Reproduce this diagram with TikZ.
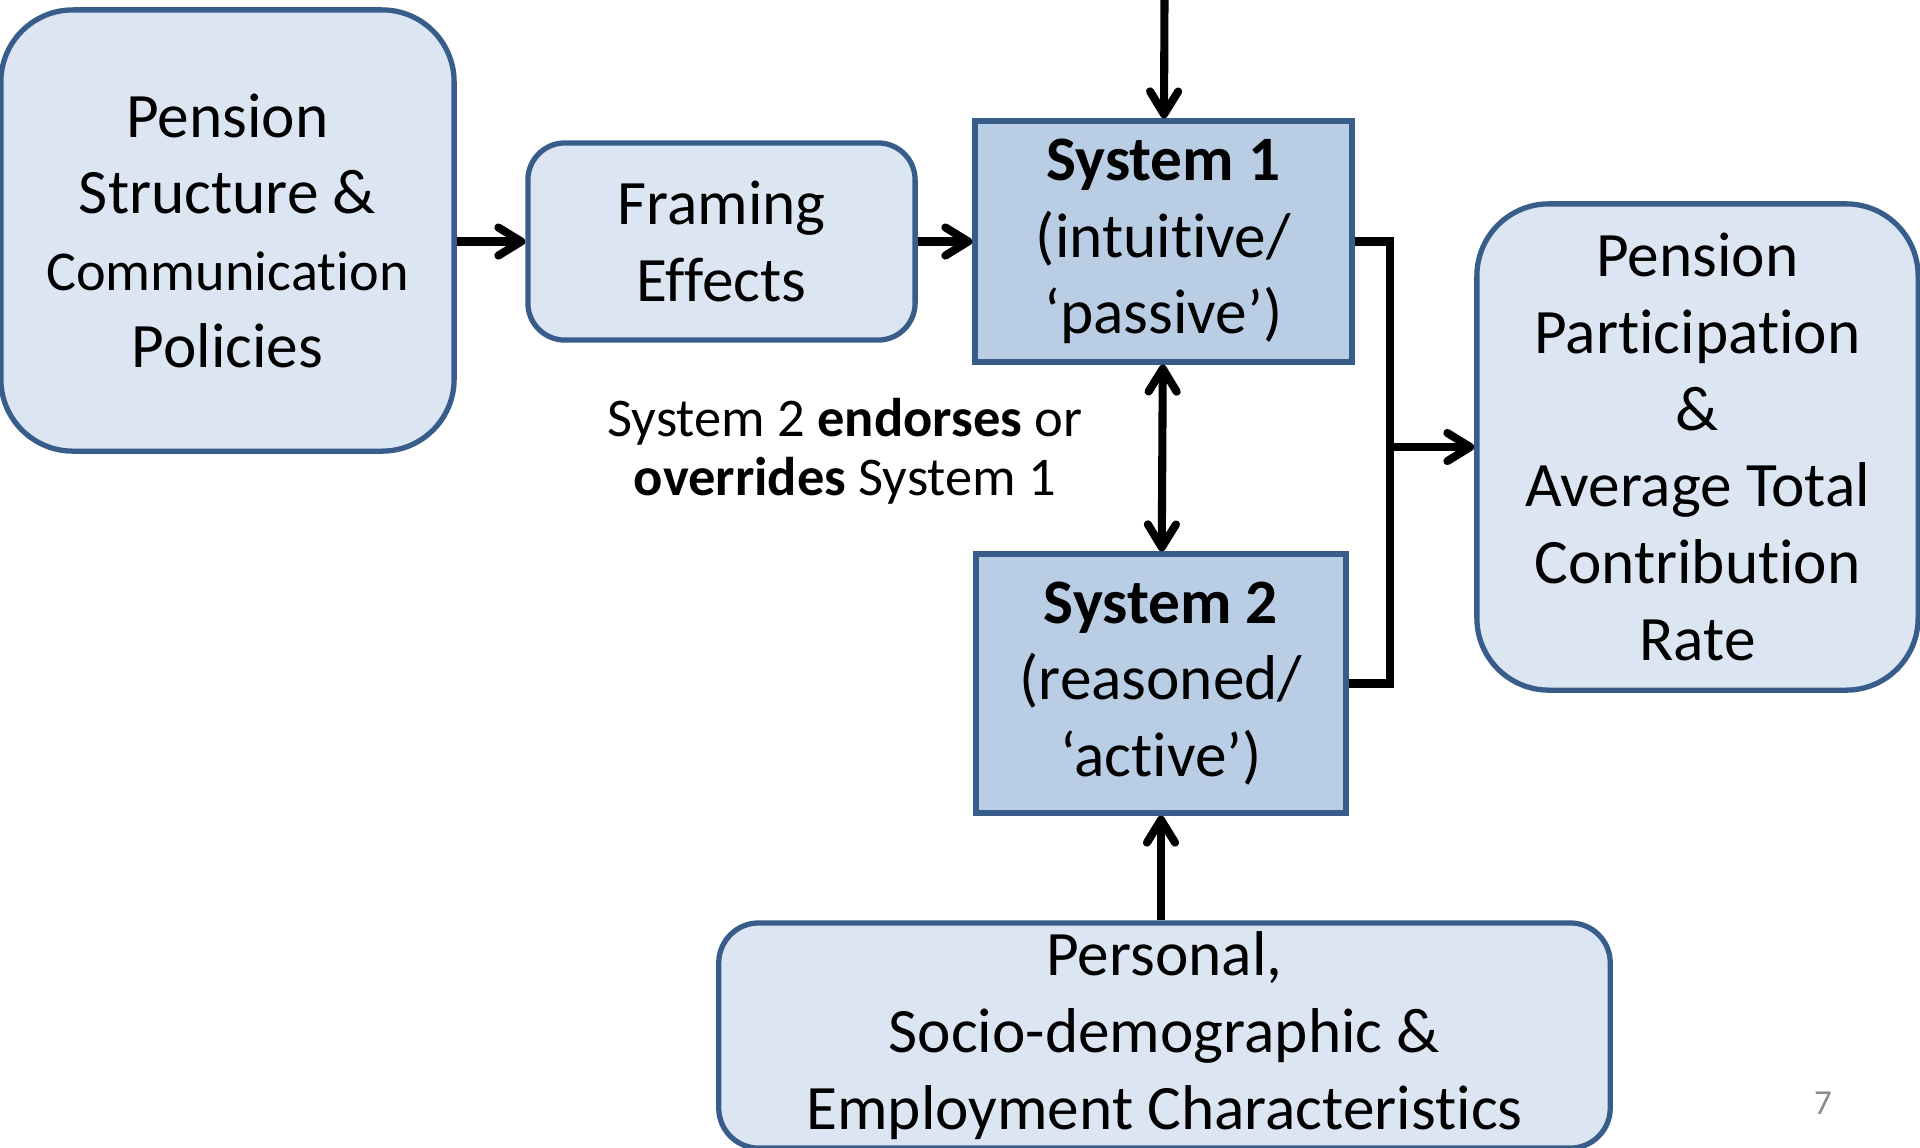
\documentclass[tikz,border=0pt]{standalone}
\usepackage{fontspec}
\setmainfont{Carlito}[Ligatures=NoCommon]
\usetikzlibrary{arrows.meta}
\definecolor{dce6f2}{rgb}{0.863,0.902,0.949}
\definecolor{b9cde5}{rgb}{0.725,0.804,0.898}
\definecolor{c385d8a}{rgb}{0.22,0.365,0.541}
\definecolor{c8c8c8c}{rgb}{0.55,0.55,0.55}
\tikzset{
  bluebox/.style={draw=c385d8a, fill=dce6f2, line width=1.5pt, align=center, inner sep=0pt, font=\fontsize{18}{21.8}\selectfont},
  sysbox/.style={bluebox, fill=b9cde5},
  link/.style={line width=2.3pt, black}
}

\begin{document}
\begin{tikzpicture}[line cap=butt,line join=miter,>={Straight Barb[round,length=6.5pt,width=8pt]},x=0.01cm,y=-0.01cm]
\clip(0,0) rectangle (1920,1147);
\node [bluebox, rounded corners=0.72cm, minimum width=4.53cm, minimum height=4.41cm] (policies) at (227.5,230.5) {Pension\\Structure \&\\{\fontsize{16}{21.8}\selectfont Communication}\\Policies};
\node [bluebox, rounded corners=0.37cm, minimum width=3.87cm, minimum height=1.97cm] (framing) at (721.5,241.5) {Framing\\Effects};
\node [sysbox, minimum width=3.77cm, minimum height=2.41cm] (sys1) at (1163.5,241.5) {\textbf{System 1}\\(intuitive/\\‘passive’)};
\node [sysbox, minimum width=3.70cm, minimum height=2.59cm] (sys2) at (1161,683.5) {\textbf{System 2}\\(reasoned/\\‘active’)};
\node [bluebox, rounded corners=0.72cm, minimum width=4.41cm, minimum height=4.86cm] (outcome) at (1697.5,447) {Pension\\Participation\\\&\\Average Total\\Contribution\\Rate};
\node [bluebox, rounded corners=0.4cm, minimum width=8.91cm, minimum height=2.25cm] (personal) at (1164.5,1035.5) {Personal,\\Socio-demographic \&\\Employment Characteristics};
\node [align=center, font=\fontsize{15.5}{16.8}\selectfont] (note) at (845,451) {System 2 \textbf{endorses} or\\\textbf{overrides} System 1};
\node [text=c8c8c8c, font=\fontsize{10}{12}\selectfont] (pagenum) at (1823,1103) {7};
\coordinate (topin) at (1164.5,0);
\coordinate (bus) at (1390,447);
% arrows
\draw [link,->] (topin) -- (sys1);
\draw [link,->] (policies.east |- framing) -- (framing);
\draw [link,->] (framing) -- (sys1);
\draw [link,<->] (sys1) -- (sys2);
\draw [link,->] (sys2.south |- personal.north) -- (sys2.south);
\draw [link] (sys1.east) -| (bus) |- (sys2.east);
\draw [link,->] (bus) -- (outcome.west);
\end{tikzpicture}
\end{document}
